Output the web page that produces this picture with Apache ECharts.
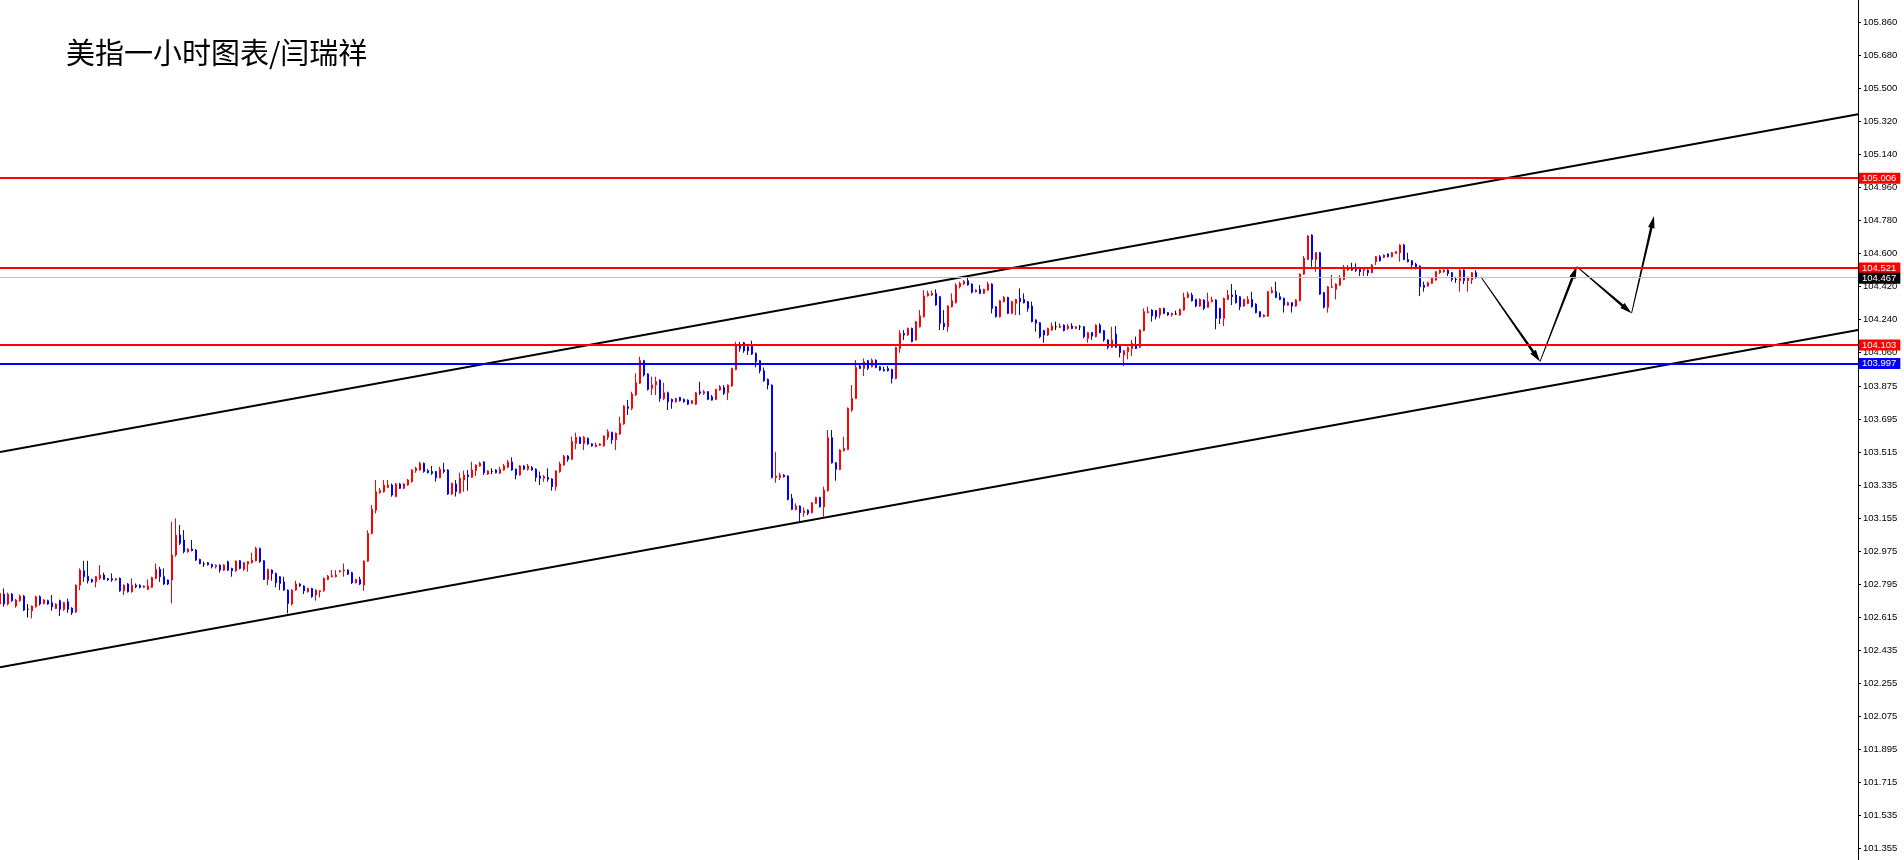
<!DOCTYPE html>
<html><head><meta charset="utf-8">
<script src="https://cdn.jsdelivr.net/npm/echarts@6/dist/echarts.min.js"></script>
<style>html,body{margin:0;padding:0;background:#fff;overflow:hidden}#c{width:1904px;height:860px}</style>
</head><body><div id="c"></div>
<script>
const chartTitle = '美指一小时图表/闫瑞祥';
// hourly candles: [open, close, low, high]
const candles = [
[102.688,102.746,102.680,102.755],[102.742,102.688,102.673,102.773],[102.688,102.742,102.680,102.750],[102.742,102.706,102.700,102.748],
[102.677,102.710,102.668,102.716],[102.706,102.731,102.700,102.740],[102.731,102.655,102.650,102.737],[102.659,102.659,102.615,102.688],
[102.651,102.677,102.610,102.680],[102.673,102.728,102.668,102.733],[102.728,102.688,102.680,102.735],[102.691,102.710,102.686,102.715],
[102.706,102.688,102.684,102.712],[102.695,102.673,102.651,102.737],[102.664,102.688,102.660,102.692],[102.706,102.659,102.622,102.712],
[102.659,102.695,102.650,102.700],[102.700,102.659,102.640,102.718],[102.666,102.640,102.628,102.670],[102.644,102.791,102.640,102.795],
[102.791,102.873,102.764,102.882],[102.869,102.837,102.809,102.924],[102.840,102.815,102.800,102.924],[102.822,102.809,102.804,102.826],
[102.809,102.837,102.779,102.840],[102.828,102.846,102.819,102.900],[102.846,102.822,102.819,102.859],[102.826,102.819,102.815,102.830],
[102.826,102.819,102.809,102.855],[102.819,102.826,102.815,102.830],[102.828,102.760,102.755,102.833],[102.760,102.791,102.737,102.795],
[102.797,102.755,102.750,102.802],[102.755,102.791,102.750,102.828],[102.791,102.782,102.775,102.800],[102.791,102.779,102.773,102.796],
[102.779,102.786,102.775,102.790],[102.768,102.786,102.764,102.822],[102.779,102.833,102.775,102.837],[102.828,102.877,102.822,102.909],
[102.877,102.837,102.809,102.891],[102.837,102.797,102.791,102.882],[102.819,102.797,102.791,102.822],[102.819,102.955,102.691,103.137],
[102.955,103.064,102.946,103.155],[103.064,103.019,103.010,103.119],[103.037,102.973,102.964,103.091],[102.973,102.988,102.968,102.992],
[102.988,102.979,102.975,103.037],[102.982,102.928,102.922,102.988],[102.931,102.909,102.904,102.935],[102.906,102.906,102.891,102.919],
[102.913,102.902,102.898,102.917],[102.904,102.891,102.882,102.908],[102.891,102.900,102.882,102.904],[102.900,102.873,102.859,102.904],
[102.873,102.900,102.868,102.905],[102.919,102.873,102.868,102.924],[102.882,102.869,102.837,102.886],[102.869,102.922,102.864,102.926],
[102.924,102.882,102.877,102.928],[102.877,102.913,102.869,102.917],[102.906,102.919,102.864,102.922],[102.913,102.928,102.909,102.968],
[102.924,102.991,102.920,103.000],[102.991,102.919,102.913,102.996],[102.924,102.822,102.819,102.928],[102.822,102.877,102.791,102.880],
[102.873,102.855,102.815,102.877],[102.855,102.804,102.779,102.859],[102.837,102.800,102.764,102.840],[102.809,102.764,102.760,102.837],
[102.764,102.691,102.637,102.768],[102.688,102.764,102.680,102.768],[102.764,102.797,102.760,102.815],[102.797,102.786,102.782,102.802],
[102.786,102.760,102.742,102.790],[102.755,102.773,102.750,102.777],[102.773,102.728,102.722,102.777],[102.737,102.764,102.706,102.768],
[102.755,102.760,102.724,102.764],[102.760,102.828,102.755,102.833],[102.822,102.840,102.818,102.846],[102.837,102.842,102.833,102.873],
[102.837,102.846,102.833,102.873],[102.864,102.869,102.860,102.873],[102.869,102.873,102.837,102.909],[102.873,102.851,102.846,102.877],
[102.859,102.804,102.797,102.864],[102.804,102.822,102.800,102.826],[102.822,102.797,102.791,102.837],[102.791,102.922,102.760,102.926],
[102.922,103.073,102.918,103.090],[103.073,103.204,103.068,103.228],[103.200,103.300,103.182,103.364],[103.295,103.306,103.290,103.320],
[103.300,103.337,103.295,103.364],[103.324,103.337,103.320,103.364],[103.337,103.282,103.273,103.345],[103.274,103.343,103.270,103.348],
[103.343,103.319,103.315,103.348],[103.319,103.343,103.314,103.347],[103.337,103.364,103.333,103.370],[103.355,103.419,103.350,103.423],
[103.415,103.428,103.404,103.437],[103.419,103.455,103.415,103.464],[103.455,103.410,103.404,103.460],[103.415,103.404,103.401,103.423],
[103.410,103.401,103.392,103.441],[103.410,103.377,103.355,103.414],[103.377,103.423,103.374,103.437],[103.419,103.410,103.401,103.459],
[103.419,103.288,103.283,103.423],[103.288,103.346,103.283,103.350],[103.343,103.301,103.274,103.364],[103.295,103.374,103.290,103.404],
[103.364,103.392,103.301,103.415],[103.392,103.383,103.306,103.419],[103.379,103.419,103.375,103.464],[103.415,103.446,103.386,103.450],
[103.441,103.455,103.437,103.464],[103.463,103.404,103.392,103.467],[103.397,103.414,103.392,103.418],[103.410,103.410,103.397,103.428],
[103.419,103.404,103.400,103.423],[103.401,103.423,103.397,103.437],[103.419,103.441,103.415,103.452],[103.434,103.463,103.430,103.474],
[103.463,103.419,103.415,103.488],[103.423,103.392,103.368,103.427],[103.392,103.441,103.388,103.446],[103.441,103.423,103.419,103.446],
[103.423,103.441,103.415,103.452],[103.432,103.419,103.415,103.441],[103.423,103.379,103.355,103.428],[103.386,103.374,103.337,103.410],
[103.374,103.383,103.355,103.392],[103.379,103.368,103.355,103.428],[103.370,103.328,103.306,103.374],[103.328,103.414,103.306,103.418],
[103.410,103.452,103.404,103.464],[103.446,103.495,103.442,103.501],[103.495,103.477,103.464,103.499],[103.477,103.574,103.473,103.601],
[103.564,103.597,103.532,103.623],[103.597,103.564,103.560,103.601],[103.564,103.597,103.528,103.604],[103.592,103.561,103.556,103.596],
[103.561,103.550,103.546,103.565],[103.546,103.555,103.543,103.568],[103.554,103.561,103.550,103.565],[103.550,103.604,103.546,103.608],
[103.597,103.628,103.583,103.641],[103.624,103.583,103.561,103.628],[103.583,103.619,103.528,103.623],[103.615,103.673,103.610,103.710],
[103.670,103.768,103.665,103.772],[103.764,103.755,103.719,103.801],[103.755,103.833,103.746,103.846],[103.828,103.895,103.823,103.946],
[103.892,104.015,103.888,104.037],[104.015,103.937,103.928,104.020],[103.943,103.859,103.852,103.947],[103.864,103.883,103.828,103.928],
[103.883,103.901,103.828,103.928],[103.909,103.809,103.791,103.913],[103.809,103.840,103.800,103.895],[103.840,103.791,103.746,103.846],
[103.804,103.791,103.753,103.809],[103.791,103.809,103.786,103.813],[103.815,103.797,103.792,103.818],[103.804,103.791,103.786,103.809],
[103.800,103.778,103.773,103.804],[103.782,103.797,103.778,103.800],[103.778,103.840,103.773,103.844],[103.846,103.837,103.828,103.900],
[103.837,103.846,103.828,103.855],[103.846,103.804,103.800,103.850],[103.818,103.800,103.797,103.828],[103.804,103.858,103.800,103.862],
[103.855,103.873,103.851,103.882],[103.869,103.837,103.828,103.882],[103.840,103.882,103.800,103.886],[103.877,103.973,103.873,103.977],
[103.967,104.100,103.963,104.118],[104.100,104.082,104.064,104.118],[104.113,104.069,104.058,104.118],[104.091,104.069,104.046,104.095],
[104.100,104.051,104.046,104.124],[104.055,104.009,103.978,104.060],[104.015,103.960,103.946,104.018],[103.960,103.906,103.900,103.978],
[103.913,103.882,103.858,103.918],[103.882,103.378,103.373,103.886],[103.378,103.386,103.349,103.518],[103.378,103.391,103.364,103.404],
[103.391,103.382,103.378,103.396],[103.386,103.258,103.253,103.390],[103.264,103.204,103.200,103.288],[103.204,103.222,103.198,103.237],
[103.222,103.186,103.137,103.226],[103.186,103.197,103.164,103.215],[103.200,103.182,103.173,103.204],[103.186,103.240,103.182,103.244],
[103.237,103.269,103.233,103.273],[103.269,103.218,103.214,103.273],[103.218,103.309,103.164,103.328],[103.306,103.595,103.302,103.637],
[103.595,103.458,103.454,103.637],[103.458,103.422,103.360,103.462],[103.422,103.528,103.418,103.532],[103.524,103.537,103.520,103.600],
[103.531,103.755,103.527,103.760],[103.746,103.809,103.737,103.882],[103.809,103.978,103.805,104.018],[103.986,103.973,103.969,104.000],
[103.973,104.009,103.931,104.027],[104.015,103.973,103.964,104.019],[103.982,104.018,103.978,104.027],[104.018,103.978,103.974,104.022],
[103.982,103.964,103.960,103.986],[103.967,103.960,103.956,103.982],[103.973,103.960,103.956,103.986],[103.967,103.918,103.891,103.971],
[103.918,104.087,103.913,104.091],[104.082,104.164,104.058,104.182],[104.164,104.155,104.128,104.182],[104.155,104.191,104.150,104.196],
[104.191,104.119,104.115,104.195],[104.128,104.228,104.124,104.232],[104.200,104.259,104.196,104.291],[104.255,104.368,104.250,104.400],
[104.368,104.382,104.364,104.397],[104.373,104.382,104.368,104.397],[104.382,104.319,104.315,104.404],[104.364,104.219,104.182,104.368],
[104.219,104.200,104.182,104.291],[104.200,104.313,104.173,104.317],[104.309,104.342,104.305,104.382],[104.331,104.428,104.327,104.437],
[104.419,104.437,104.409,104.446],[104.433,104.446,104.429,104.455],[104.451,104.428,104.424,104.473],[104.433,104.388,104.382,104.437],
[104.391,104.400,104.387,104.404],[104.404,104.382,104.378,104.428],[104.382,104.404,104.378,104.408],[104.400,104.433,104.396,104.446],
[104.433,104.300,104.273,104.437],[104.309,104.255,104.250,104.313],[104.255,104.342,104.250,104.346],[104.337,104.360,104.333,104.368],
[104.360,104.273,104.269,104.364],[104.273,104.337,104.269,104.341],[104.328,104.349,104.264,104.353],[104.355,104.337,104.264,104.409],
[104.349,104.331,104.327,104.382],[104.337,104.300,104.282,104.341],[104.313,104.228,104.224,104.337],[104.237,104.219,104.173,104.241],
[104.222,104.146,104.137,104.226],[104.179,104.155,104.113,104.183],[104.155,104.191,104.150,104.195],[104.182,104.204,104.178,104.222],
[104.200,104.200,104.182,104.228],[104.197,104.204,104.193,104.219],[104.209,104.179,104.175,104.213],[104.191,104.204,104.182,104.215],
[104.204,104.191,104.187,104.219],[104.191,104.200,104.187,104.204],[104.200,104.200,104.182,104.209],[104.200,104.146,104.137,104.204],
[104.137,104.168,104.113,104.172],[104.168,104.149,104.128,104.172],[104.146,104.209,104.142,104.213],[104.209,104.168,104.164,104.219],
[104.179,104.128,104.119,104.183],[104.128,104.088,104.077,104.132],[104.088,104.128,104.084,104.200],[104.160,104.088,104.084,104.204],
[104.095,104.059,104.033,104.099],[104.046,104.069,103.986,104.073],[104.064,104.088,104.022,104.092],[104.082,104.109,104.040,104.128],
[104.100,104.082,104.078,104.146],[104.088,104.182,104.084,104.186],[104.179,104.282,104.175,104.300],[104.277,104.282,104.273,104.309],
[104.291,104.259,104.228,104.295],[104.288,104.255,104.240,104.292],[104.264,104.300,104.246,104.304],[104.300,104.273,104.269,104.304],
[104.277,104.264,104.260,104.281],[104.264,104.273,104.255,104.277],[104.269,104.269,104.264,104.288],[104.264,104.295,104.260,104.299],
[104.291,104.360,104.287,104.386],[104.360,104.379,104.356,104.391],[104.373,104.342,104.338,104.386],[104.349,104.313,104.306,104.353],
[104.313,104.349,104.309,104.355],[104.346,104.300,104.291,104.350],[104.306,104.337,104.302,104.386],[104.337,104.346,104.333,104.364],
[104.346,104.246,104.186,104.350],[104.300,104.246,104.215,104.304],[104.246,104.355,104.204,104.359],[104.349,104.373,104.345,104.400],
[104.373,104.364,104.318,104.433],[104.373,104.331,104.327,104.400],[104.364,104.309,104.291,104.368],[104.313,104.349,104.309,104.353],
[104.327,104.349,104.323,104.367],[104.349,104.309,104.305,104.391],[104.324,104.277,104.273,104.328],[104.282,104.255,104.251,104.286],
[104.255,104.264,104.251,104.268],[104.258,104.391,104.254,104.395],[104.386,104.397,104.382,104.418],[104.391,104.360,104.356,104.446],
[104.364,104.349,104.345,104.386],[104.355,104.318,104.277,104.359],[104.318,104.331,104.314,104.337],[104.331,104.313,104.277,104.335],
[104.313,104.346,104.309,104.350],[104.342,104.487,104.338,104.491],[104.487,104.573,104.483,104.586],[104.567,104.695,104.563,104.700],
[104.700,104.567,104.527,104.704],[104.567,104.604,104.500,104.608],[104.604,104.378,104.374,104.608],[104.386,104.306,104.300,104.390],
[104.306,104.418,104.277,104.422],[104.415,104.418,104.411,104.482],[104.404,104.433,104.349,104.437],[104.427,104.464,104.423,104.482],
[104.458,104.513,104.454,104.537],[104.509,104.518,104.506,104.537],[104.518,104.509,104.505,104.549],[104.513,104.506,104.500,104.546],
[104.513,104.500,104.477,104.517],[104.506,104.513,104.477,104.517],[104.509,104.495,104.477,104.513],[104.495,104.537,104.491,104.542],
[104.555,104.582,104.537,104.586],[104.582,104.560,104.556,104.591],[104.578,104.591,104.574,104.595],[104.597,104.582,104.578,104.600],
[104.582,104.604,104.578,104.608],[104.600,104.609,104.597,104.613],[104.604,104.646,104.555,104.650],[104.646,104.567,104.563,104.651],
[104.567,104.555,104.551,104.604],[104.560,104.537,104.513,104.564],[104.542,104.527,104.513,104.549],[104.531,104.418,104.367,104.535],
[104.427,104.415,104.391,104.446],[104.422,104.440,104.418,104.446],[104.437,104.464,104.433,104.469],[104.455,104.500,104.451,104.504],
[104.495,104.509,104.487,104.513],[104.500,104.509,104.495,104.513],[104.509,104.491,104.477,104.513],[104.495,104.458,104.446,104.499],
[104.458,104.458,104.440,104.473],[104.451,104.509,104.391,104.513],[104.509,104.451,104.433,104.513],[104.451,104.469,104.391,104.473],
[104.455,104.495,104.433,104.499],[104.495,104.467,104.462,104.509]
];
// price-axis labels
const tickValues = [105.860,105.680,105.500,105.320,105.140,104.960,104.780,104.600,104.420,104.240,104.060,103.875,103.695,103.515,103.335,103.155,102.975,102.795,102.615,102.435,102.255,102.075,101.895,101.715,101.535,101.355];
// horizontal levels
const levelValues = [105.006, 104.521, 104.467, 104.103, 103.997];
const levelColors = ['#ff0000', '#ff0000', '#c0c0c0', '#ff0000', '#0000ff'];
const levelBoxColors = ['#ff0000', '#ff0000', '#000000', '#ff0000', '#0000ff'];
const levelWidths = [2, 2, 1, 2, 2];
// channel lines: [bar index, price]
const upperTrend = [[0, 103.517], [464.5, 105.359]];
const lowerTrend = [[0, 102.343], [464.5, 104.182]];
// projected path: [bar index, price]
const forecastPath = [[370.2, 104.473], [385, 104.010], [394.2, 104.528], [407.9, 104.274], [413.5, 104.804]];

const chart = echarts.init(document.getElementById('c'), null, {renderer: 'canvas'});
const candleData = candles.map((c, i) => [i, c[0], c[1], c[2], c[3]]);
const arrowSegs = [];
for (let k = 0; k < forecastPath.length - 1; k++) {
  arrowSegs.push([forecastPath[k][0], forecastPath[k][1], forecastPath[k + 1][0], forecastPath[k + 1][1]]);
}
const labelFont = 'Liberation Sans';

chart.setOption({
  animation: false,
  backgroundColor: '#ffffff',
  grid: {left: 0, right: 46, top: 0, bottom: 0, containLabel: false},
  xAxis: {type: 'value', min: 0, max: 464.5, show: false},
  yAxis: {
    type: 'value', position: 'right', min: 101.292, max: 105.982, scale: true,
    axisLine: {show: true, onZero: false, lineStyle: {color: '#000', width: 1}},
    axisTick: {show: true, length: 3, customValues: tickValues, lineStyle: {color: '#000'}},
    axisLabel: {customValues: tickValues, formatter: v => v.toFixed(3), color: '#000', fontSize: 9.5, fontFamily: labelFont, margin: 5},
    splitLine: {show: false}
  },
  graphic: [{
    type: 'text', x: 66, y: 38, silent: true,
    style: {text: chartTitle, fontSize: 29, fontFamily: 'Noto Sans CJK SC', fill: '#000', textVerticalAlign: 'top'}
  }],
  series: [
    {
      type: 'candlestick', data: candleData, encode: {x: 0, y: [1, 2, 3, 4]},
      barWidth: 2, silent: true,
      itemStyle: {color: '#ff0000', color0: '#0000ff', borderColor: '#ff0000', borderColor0: '#0000ff', borderColorDoji: '#000000', borderWidth: 1},
      markLine: {
        silent: true, symbol: ['none', 'none'], animation: false,
        data: levelValues.map((v, k) => ({
          yAxis: v,
          lineStyle: {color: levelColors[k], width: levelWidths[k], type: 'solid'},
          label: {
            show: true, position: 'end', distance: 1,
            formatter: () => v.toFixed(3),
            color: '#fff', backgroundColor: levelBoxColors[k],
            fontSize: 9.5, fontFamily: labelFont, lineHeight: 10,
            padding: [1, 4, 0, 3], offset: [0, k === 2 ? 1 : 0]
          }
        }))
      }
    },
    {type: 'line', data: upperTrend, symbol: 'none', silent: true, lineStyle: {color: '#000', width: 2}, z: 3},
    {type: 'line', data: lowerTrend, symbol: 'none', silent: true, lineStyle: {color: '#000', width: 2}, z: 3},
    {
      type: 'custom', data: arrowSegs, encode: {x: [0, 2], y: [1, 3]}, silent: true, clip: false, z: 4,
      renderItem: function (params, api) {
        const a = api.coord([api.value(0), api.value(1)]);
        const b = api.coord([api.value(2), api.value(3)]);
        const dx = b[0] - a[0], dy = b[1] - a[1];
        const len = Math.sqrt(dx * dx + dy * dy);
        const ux = dx / len, uy = dy / len, nx = -uy, ny = ux;
        const L = 12, hw = 3.3, w0 = 0.45, w1 = 1.3;
        const cx = b[0] - ux * L, cy = b[1] - uy * L;
        const pts = [
          [a[0] + nx * w0, a[1] + ny * w0], [cx + nx * w1, cy + ny * w1], [cx + nx * hw, cy + ny * hw],
          [b[0], b[1]],
          [cx - nx * hw, cy - ny * hw], [cx - nx * w1, cy - ny * w1], [a[0] - nx * w0, a[1] - ny * w0]
        ];
        return {type: 'polygon', shape: {points: pts}, style: {fill: '#000'}};
      }
    }
  ]
});
</script>
</body></html>
